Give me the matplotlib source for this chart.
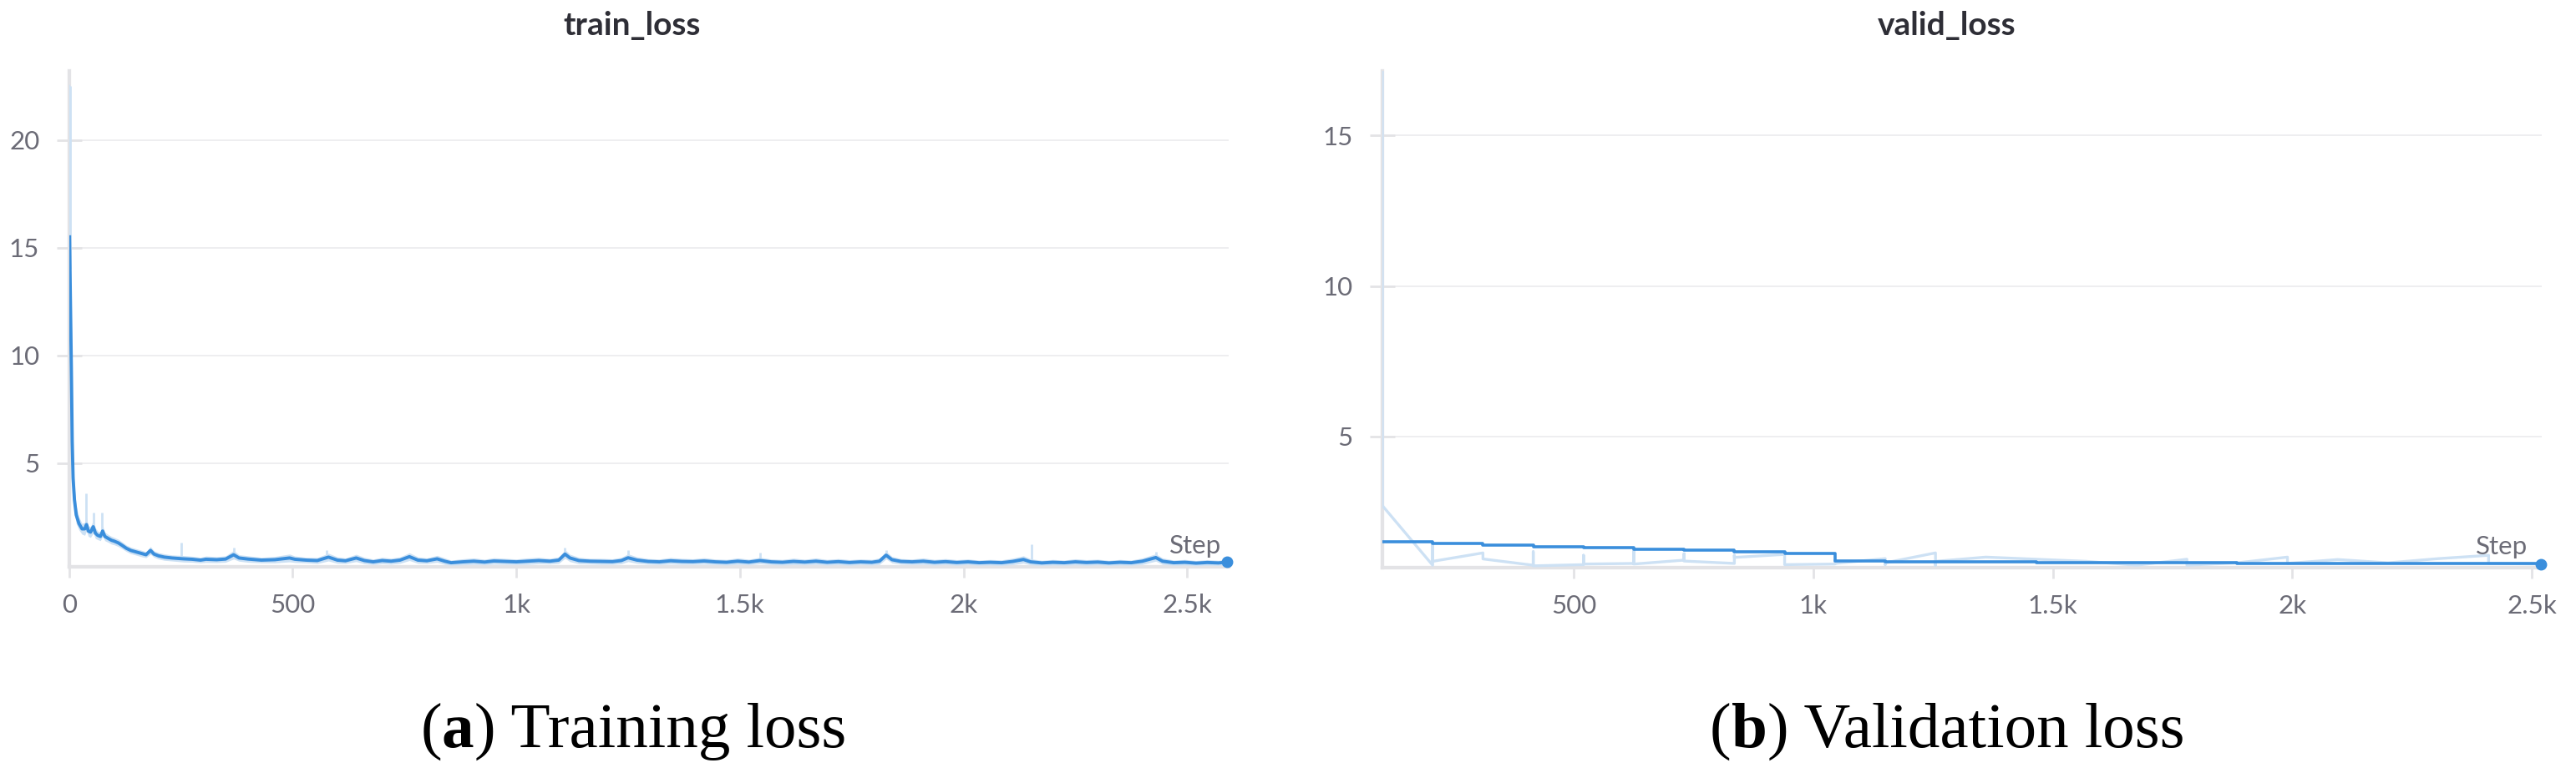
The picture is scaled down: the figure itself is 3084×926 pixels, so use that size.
import numpy as np
import matplotlib
matplotlib.use("Agg")
from matplotlib import pyplot as plt

plt.rcParams['font.family'] = ['Lato', 'DejaVu Sans']

# ---------------- datos ----------------
# train_loss: linea suavizada (oscura)
train_steps = [1, 3, 5, 7, 9, 12, 16, 22, 29, 35,
               39, 43, 48, 54, 59, 64, 70, 75, 80, 88,
               95, 101, 110, 119, 128, 138, 150, 163, 172, 182,
               190, 200, 213, 230, 256, 275, 294, 306, 330, 350,
               368, 380, 400, 430, 460, 493, 505, 530, 555, 580,
               600, 618, 642, 660, 680, 700, 720, 740, 761, 780,
               800, 823, 840, 854, 880, 905, 929, 950, 975, 1000,
               1025, 1050, 1075, 1095, 1109, 1120, 1140, 1165, 1190, 1215,
               1235, 1250, 1270, 1295, 1320, 1345, 1370, 1395, 1420, 1445,
               1470, 1495, 1520, 1545, 1570, 1595, 1620, 1645, 1670, 1695,
               1720, 1745, 1770, 1795, 1812, 1827, 1840, 1860, 1885, 1910,
               1935, 1960, 1985, 2010, 2035, 2060, 2085, 2110, 2134, 2150,
               2175, 2200, 2225, 2250, 2275, 2300, 2325, 2350, 2375, 2400,
               2430, 2445, 2470, 2495, 2520, 2545, 2570, 2590]
train_smooth = [15.5, 12.5, 9.5, 6.0, 4.3, 3.3, 2.6, 2.2, 1.95, 1.95,
                2.15, 1.85, 1.8, 2.05, 1.75, 1.65, 1.6, 1.85, 1.6, 1.5,
                1.42, 1.38, 1.3, 1.18, 1.05, 0.95, 0.88, 0.8, 0.75, 0.95,
                0.78, 0.7, 0.64, 0.6, 0.56, 0.54, 0.5, 0.54, 0.52, 0.55,
                0.75, 0.6, 0.55, 0.5, 0.52, 0.6, 0.54, 0.5, 0.48, 0.64,
                0.5, 0.47, 0.6, 0.48, 0.42, 0.48, 0.45, 0.5, 0.66, 0.5,
                0.47, 0.56, 0.45, 0.38, 0.42, 0.45, 0.41, 0.46, 0.44, 0.42,
                0.45, 0.48, 0.45, 0.5, 0.78, 0.6, 0.48, 0.45, 0.44, 0.43,
                0.48, 0.61, 0.5, 0.44, 0.42, 0.47, 0.44, 0.43, 0.46, 0.42,
                0.4, 0.45, 0.41, 0.48, 0.42, 0.4, 0.44, 0.41, 0.45, 0.4,
                0.43, 0.39, 0.42, 0.4, 0.45, 0.73, 0.52, 0.44, 0.42, 0.45,
                0.4, 0.43, 0.39, 0.42, 0.38, 0.4, 0.38, 0.44, 0.53, 0.42,
                0.37, 0.4, 0.38, 0.42, 0.39, 0.41, 0.37, 0.4, 0.38, 0.45,
                0.62, 0.45, 0.38, 0.4, 0.36, 0.39, 0.37, 0.41]
# ancho de la banda de datos crudos (claro) alrededor de la linea suavizada
train_spread = [5.0, 3.0, 2.5, 1.5, 1.0, 0.6, 0.4, 0.3, 0.25, 0.3,
                0.3, 0.25, 0.25, 0.3, 0.25, 0.2, 0.2, 0.25, 0.2, 0.18,
                0.18, 0.17, 0.17, 0.16, 0.15, 0.15, 0.15, 0.15, 0.14, 0.18,
                0.15, 0.15, 0.15, 0.14, 0.15, 0.14, 0.13, 0.15, 0.14, 0.15,
                0.2, 0.15, 0.15, 0.13, 0.15, 0.18, 0.15, 0.13, 0.14, 0.18,
                0.15, 0.13, 0.17, 0.15, 0.13, 0.15, 0.14, 0.15, 0.18, 0.15,
                0.13, 0.16, 0.15, 0.12, 0.14, 0.15, 0.13, 0.15, 0.14, 0.13,
                0.15, 0.15, 0.13, 0.15, 0.2, 0.17, 0.15, 0.13, 0.14, 0.13,
                0.15, 0.18, 0.15, 0.13, 0.13, 0.15, 0.14, 0.13, 0.15, 0.13,
                0.13, 0.15, 0.13, 0.15, 0.13, 0.13, 0.15, 0.13, 0.15, 0.13,
                0.14, 0.13, 0.13, 0.13, 0.15, 0.18, 0.15, 0.13, 0.13, 0.15,
                0.13, 0.14, 0.13, 0.13, 0.12, 0.13, 0.13, 0.15, 0.17, 0.14,
                0.12, 0.13, 0.12, 0.14, 0.13, 0.13, 0.12, 0.13, 0.12, 0.15,
                0.17, 0.15, 0.12, 0.13, 0.12, 0.13, 0.12, 0.13]
# picos sueltos de los datos crudos
spike_steps = [2, 38, 55, 74, 250, 368, 575, 1109, 1250, 1545, 1827, 2153, 2430]
spike_vals = [22.5, 3.6, 2.7, 2.7, 1.3, 1.1, 0.95, 1.08, 0.95, 0.85, 0.96, 1.25, 0.9]

# valid_loss: linea escalonada (oscura)
valid_steps = [100, 205, 310, 415, 520, 625, 730, 835, 940, 1045, 1150, 1255,
               1360, 1465, 1570, 1675, 1780, 1885, 1990, 2095, 2200, 2305, 2410, 2520]
valid_smooth = [1.50, 1.45, 1.40, 1.34, 1.30, 1.26, 1.21, 1.16, 1.10, 0.85, 0.84, 0.84,
                0.83, 0.82, 0.81, 0.81, 0.80, 0.79, 0.79, 0.78, 0.78, 0.77, 0.77, 0.76]
# valid_loss: datos crudos (claro)
valid_raw_steps = [100, 100, 205, 205, 205, 310, 310, 415, 415, 415,
                   520, 520, 520, 625, 625, 625, 730, 730, 730, 835,
                   835, 835, 940, 940, 1045, 1045, 1045, 1150, 1150, 1150,
                   1255, 1255, 1255, 1360, 1465, 1570, 1675, 1780, 1780, 1885,
                   1990, 1990, 2095, 2200, 2305, 2410, 2410, 2520]
valid_raw_vals = [17.1, 2.70, 0.72, 1.42, 0.85, 1.13, 0.93, 0.72, 1.17, 0.70,
                  0.74, 1.05, 0.76, 0.78, 1.21, 0.76, 0.89, 1.10, 0.86, 0.78,
                  1.05, 0.98, 1.08, 0.74, 0.76, 0.88, 0.78, 0.94, 0.74, 0.80,
                  1.13, 0.72, 0.85, 0.99, 0.92, 0.85, 0.72, 0.92, 0.72, 0.80,
                  0.99, 0.78, 0.91, 0.80, 0.94, 1.05, 0.78, 0.76]

train_xticks = [0, 500, 1000, 1500, 2000, 2500]
train_xlabels = ["0", "500", "1k", "1.5k", "2k", "2.5k"]
valid_xticks = [500, 1000, 1500, 2000, 2500]
valid_xlabels = ["500", "1k", "1.5k", "2k", "2.5k"]

# ---------------- estilo ----------------
AZUL = "#3a8edc"
CLARO = "#cde1f4"
GRIS_EJE = "#e3e3e6"
GRIS_GRID = "#e9e9ec"
GRIS_TXT = "#6b6b76"
W, H = 3084, 926

fig = plt.figure(figsize=(W / 100, H / 100), dpi=100)
ax1 = fig.add_axes([82.7 / W, 1 - 679 / H, 1388.3 / W, 594 / H])
ax2 = fig.add_axes([1655 / W, 1 - 680 / H, 1388 / W, 595 / H])


def estilo(ax, titulo, xt, xticks, xlabels, yticks, step_x):
    ax.set_title(titulo, fontsize=28, fontweight="bold", color="#2e2e36", pad=31, x=xt)
    for s in ("top", "right"):
        ax.spines[s].set_visible(False)
    for s in ("left", "bottom"):
        ax.spines[s].set_color(GRIS_EJE)
        ax.spines[s].set_linewidth(3.1)
    ax.set_xticks(xticks)
    ax.set_xticklabels(xlabels)
    ax.set_yticks(yticks)
    ax.yaxis.grid(True, color=GRIS_GRID, linewidth=1.1)
    ax.set_axisbelow(True)
    ax.tick_params(axis="y", direction="inout", length=21, width=2, color=GRIS_EJE,
                   pad=15, labelsize=22.5, labelcolor=GRIS_TXT)
    ax.tick_params(axis="x", direction="out", length=9, width=2, color=GRIS_EJE,
                   pad=14, labelsize=22.5, labelcolor=GRIS_TXT)
    ax.text(step_x, 0.027, "Step", transform=ax.transAxes, ha="right", va="baseline",
            fontsize=22.5, color=GRIS_TXT)


# ---------------- train_loss ----------------
ts = np.array(train_steps)
tv = np.array(train_smooth)
tw = np.array(train_spread)
ax1.fill_between(ts, tv - tw, tv + tw, color=CLARO, linewidth=0, zorder=2.6)
ax1.plot([0] + train_steps[:1], [spike_vals[0], train_smooth[0]], color=CLARO, lw=2, zorder=2.6)
base = np.interp(spike_steps, ts, tv)
ax1.vlines(spike_steps, base, spike_vals, color=CLARO, lw=2, zorder=2.6)
ax1.plot(ts, tv, color=AZUL, lw=2.8, zorder=3, solid_joinstyle="round")
ax1.plot(ts[-1], tv[-1], "o", color=AZUL, ms=9, zorder=4, clip_on=False)
ax1.set_xlim(0, 2593)
ax1.set_ylim(0.19, 23.2)
estilo(ax1, "train_loss", (757 - 82.7) / 1388.3, train_xticks, train_xlabels,
       [5, 10, 15, 20], 0.9935)

# ---------------- valid_loss ----------------
ax2.plot(valid_raw_steps, valid_raw_vals, color=CLARO, lw=2.4, zorder=2.6)
ax2.plot(valid_steps, valid_smooth, color=AZUL, lw=2.6, drawstyle="steps-post", zorder=3)
ax2.plot(valid_steps[-1], valid_smooth[-1], "o", color=AZUL, ms=9, zorder=4, clip_on=False)
ax2.set_xlim(100, 2521)
ax2.set_ylim(0.64, 17.15)
estilo(ax2, "valid_loss", (2331 - 1655) / 1388, valid_xticks, valid_xlabels,
       [5, 10, 15], 0.988)


# ---------------- pies de figura ----------------
def pie(xc, letra, resto):
    partes = [("(", "normal"), (letra, "bold"), (") " + resto, "normal")]
    textos = [fig.text(0, 1 - 895 / H, s, fontsize=55.5, fontweight=w, va="baseline",
                       family=["Liberation Serif", "DejaVu Serif"], color="black")
              for s, w in partes]
    fig.canvas.draw()
    r = fig.canvas.get_renderer()
    anchos = [t.get_window_extent(r).width for t in textos]
    x = xc - sum(anchos) / 2
    for t, a in zip(textos, anchos):
        t.set_x(x / W)
        x += a


pie(758, "a", "Training loss")
pie(2331, "b", "Validation loss")

fig.savefig("out.png", dpi=100, facecolor="white")
